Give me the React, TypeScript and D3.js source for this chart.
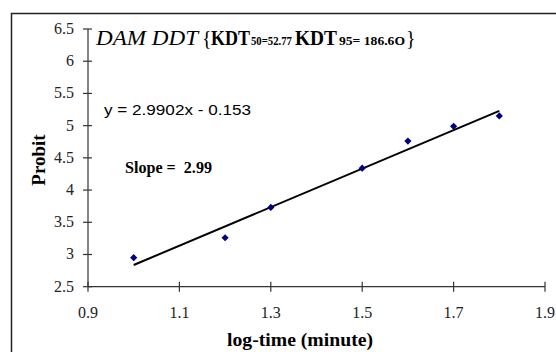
import React from "react";
import * as d3 from "d3";

const logTime = [1.0, 1.2, 1.3, 1.5, 1.6, 1.7, 1.8];
const probit = [2.95, 3.26, 3.73, 4.34, 4.76, 4.99, 5.15];
const xTicks = [0.9, 1.1, 1.3, 1.5, 1.7, 1.9];
const yTicks = [2.5, 3, 3.5, 4, 4.5, 5, 5.5, 6, 6.5];
const slope = 2.9902;
const intercept = -0.153;
const fitRange = [1.0, 1.8];

export default function App() {
  const W = 556, H = 352;
  const x = d3.scaleLinear().domain([0.9, 1.9]).range([88, 545]);
  const y = d3.scaleLinear().domain([2.5, 6.5]).range([286.7, 29]);
  const serif = "'Liberation Serif', 'Times New Roman', serif";
  const sans = "'Liberation Sans', Arial, sans-serif";
  const line = d3.line<number>().x((d) => x(d)).y((d) => y(slope * d + intercept));
  const sq = d3.symbol().type(d3.symbolSquare).size(26)();
  return (
    <svg width={W} height={H} style={{ position: "absolute", left: 0, top: 0 }}>
      <rect x={0} y={0} width={W} height={H} fill="#fff" />
      <rect x={11.5} y={13.5} width={700} height={500} fill="none" stroke="#222" strokeWidth={1.5} />
      {/* axes */}
      <line x1={x(0.9)} x2={x(0.9)} y1={y(2.5)} y2={y(6.5)} stroke="#333" strokeWidth={1.2} />
      <line x1={x(0.9)} x2={x(1.9)} y1={y(2.5)} y2={y(2.5)} stroke="#333" strokeWidth={1.2} />
      {yTicks.map((t) => (
        <g key={"y" + t}>
          <line x1={x(0.9) - 5} x2={x(0.9) + 4} y1={y(t)} y2={y(t)} stroke="#333" strokeWidth={1.2} />
          <text x={74} y={y(t) + 5} textAnchor="end" fontFamily={serif} fontSize={16} fill="#222">
            {String(t)}
          </text>
        </g>
      ))}
      {xTicks.map((t) => (
        <g key={"x" + t}>
          <line x1={x(t)} x2={x(t)} y1={y(2.5) - 5} y2={y(2.5) + 5} stroke="#333" strokeWidth={1.2} />
          <text x={x(t)} y={318} textAnchor="middle" fontFamily={serif} fontSize={16} fill="#222">
            {t.toFixed(1)}
          </text>
        </g>
      ))}
      {/* trend line */}
      <path d={line(fitRange) || ""} fill="none" stroke="#000" strokeWidth={2} />
      {logTime.map((v, i) => (
        <path key={i} d={sq || ""} transform={`translate(${x(v)},${y(probit[i])}) rotate(45)`} fill="#000080" />
      ))}
      {/* title */}
      <text x={96} y={45} fontFamily={serif} fontSize={20} fontStyle="italic" textLength={102} lengthAdjust="spacingAndGlyphs">DAM DDT</text>
      <text x={202} y={45} fontFamily={serif} fontSize={20}>{"{"}</text>
      <text x={211} y={45} fontFamily={serif} fontSize={20} fontWeight="bold" textLength={39} lengthAdjust="spacingAndGlyphs">KDT</text>
      <text x={251} y={45} fontFamily={serif} fontSize={13} fontWeight="bold" textLength={41} lengthAdjust="spacingAndGlyphs">50=52.77</text>
      <text x={295} y={45} fontFamily={serif} fontSize={20} fontWeight="bold" textLength={42} lengthAdjust="spacingAndGlyphs">KDT</text>
      <text x={339} y={45} fontFamily={serif} fontSize={13} fontWeight="bold" textLength={66} lengthAdjust="spacingAndGlyphs">95= 186.6O</text>
      <text x={406} y={45} fontFamily={serif} fontSize={20}>{"}"}</text>
      {/* equation */}
      <text x={104} y={115} fontFamily={sans} fontSize={15} textLength={147} lengthAdjust="spacingAndGlyphs">y = 2.9902x - 0.153</text>
      <text x={125} y={172.5} fontFamily={serif} fontSize={16} fontWeight="bold" textLength={87} lengthAdjust="spacingAndGlyphs" style={{ whiteSpace: "pre" }}>{"Slope =  2.99"}</text>
      {/* axis titles */}
      <text transform="translate(45,160) rotate(-90)" textAnchor="middle" fontFamily={serif} fontSize={19} fontWeight="bold">Probit</text>
      <text x={227} y={346} fontFamily={serif} fontSize={18} fontWeight="bold" textLength={146} lengthAdjust="spacingAndGlyphs">log-time (minute)</text>
    </svg>
  );
}
